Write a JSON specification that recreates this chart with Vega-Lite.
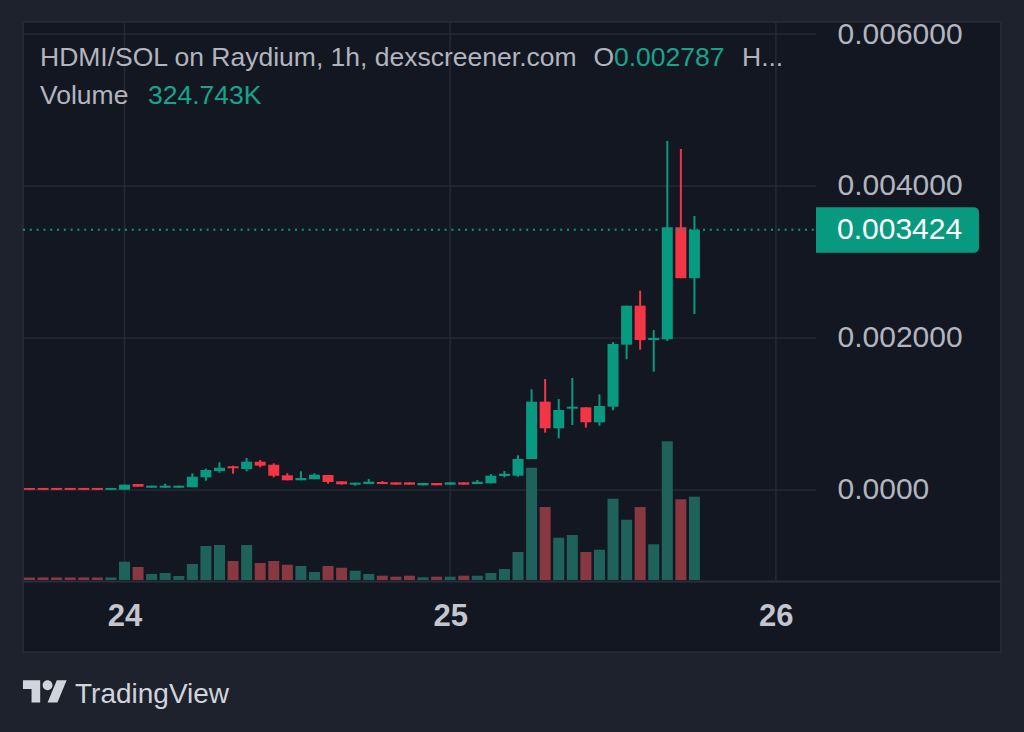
{
  "$schema": "https://vega.github.io/schema/vega-lite/v6.json",
  "width": 978,
  "height": 630,
  "autosize": {"type": "none"},
  "padding": {"left": 23, "top": 22, "right": 23, "bottom": 80},
  "background": "#1e222d",
  "config": {
    "view": {"fill": "#131722", "stroke": "#2a2e39", "strokeWidth": 1.5},
    "font": "Liberation Sans"
  },
  "datasets": {
    "ohlcv": [
      {"t": "2024-03-23T17:00", "o": 0.000027, "h": 0.000027, "l": 0.000002, "c": 0.000002, "v": 10000},
      {"t": "2024-03-23T18:00", "o": 0.000027, "h": 0.000027, "l": 0.000002, "c": 0.000002, "v": 10000},
      {"t": "2024-03-23T19:00", "o": 0.000027, "h": 0.000027, "l": 0.000002, "c": 0.000002, "v": 10000},
      {"t": "2024-03-23T20:00", "o": 0.000027, "h": 0.000027, "l": 0.000002, "c": 0.000002, "v": 10000},
      {"t": "2024-03-23T21:00", "o": 0.000027, "h": 0.000027, "l": 0.000002, "c": 0.000002, "v": 10000},
      {"t": "2024-03-23T22:00", "o": 0.000027, "h": 0.000027, "l": 0.000002, "c": 0.000002, "v": 10000},
      {"t": "2024-03-23T23:00", "o": 0.000002, "h": 0.000027, "l": 0.000002, "c": 0.000027, "v": 10000},
      {"t": "2024-03-24T00:00", "o": 0.000004, "h": 0.000070, "l": 0.000004, "c": 0.000070, "v": 71300},
      {"t": "2024-03-24T01:00", "o": 0.000079, "h": 0.000079, "l": 0.000043, "c": 0.000043, "v": 50700},
      {"t": "2024-03-24T02:00", "o": 0.000030, "h": 0.000057, "l": 0.000030, "c": 0.000057, "v": 23400},
      {"t": "2024-03-24T03:00", "o": 0.000030, "h": 0.000083, "l": 0.000030, "c": 0.000057, "v": 27300},
      {"t": "2024-03-24T04:00", "o": 0.000030, "h": 0.000057, "l": 0.000030, "c": 0.000057, "v": 15600},
      {"t": "2024-03-24T05:00", "o": 0.000036, "h": 0.000220, "l": 0.000036, "c": 0.000175, "v": 62400},
      {"t": "2024-03-24T06:00", "o": 0.000167, "h": 0.000280, "l": 0.000122, "c": 0.000263, "v": 132500},
      {"t": "2024-03-24T07:00", "o": 0.000250, "h": 0.000364, "l": 0.000228, "c": 0.000293, "v": 136400},
      {"t": "2024-03-24T08:00", "o": 0.000312, "h": 0.000320, "l": 0.000214, "c": 0.000286, "v": 74100},
      {"t": "2024-03-24T09:00", "o": 0.000276, "h": 0.000421, "l": 0.000246, "c": 0.000372, "v": 136400},
      {"t": "2024-03-24T10:00", "o": 0.000372, "h": 0.000395, "l": 0.000299, "c": 0.000320, "v": 66300},
      {"t": "2024-03-24T11:00", "o": 0.000333, "h": 0.000351, "l": 0.000167, "c": 0.000188, "v": 74100},
      {"t": "2024-03-24T12:00", "o": 0.000193, "h": 0.000220, "l": 0.000128, "c": 0.000128, "v": 59600},
      {"t": "2024-03-24T13:00", "o": 0.000128, "h": 0.000246, "l": 0.000128, "c": 0.000158, "v": 54600},
      {"t": "2024-03-24T14:00", "o": 0.000141, "h": 0.000220, "l": 0.000141, "c": 0.000201, "v": 31200},
      {"t": "2024-03-24T15:00", "o": 0.000197, "h": 0.000197, "l": 0.000083, "c": 0.000105, "v": 54600},
      {"t": "2024-03-24T16:00", "o": 0.000114, "h": 0.000114, "l": 0.000070, "c": 0.000075, "v": 47900},
      {"t": "2024-03-24T17:00", "o": 0.000070, "h": 0.000096, "l": 0.000057, "c": 0.000096, "v": 36300},
      {"t": "2024-03-24T18:00", "o": 0.000079, "h": 0.000145, "l": 0.000079, "c": 0.000109, "v": 23400},
      {"t": "2024-03-24T19:00", "o": 0.000105, "h": 0.000118, "l": 0.000079, "c": 0.000079, "v": 16800},
      {"t": "2024-03-24T20:00", "o": 0.000101, "h": 0.000101, "l": 0.000070, "c": 0.000070, "v": 12900},
      {"t": "2024-03-24T21:00", "o": 0.000101, "h": 0.000101, "l": 0.000070, "c": 0.000070, "v": 16800},
      {"t": "2024-03-24T22:00", "o": 0.000062, "h": 0.000092, "l": 0.000062, "c": 0.000092, "v": 10500},
      {"t": "2024-03-24T23:00", "o": 0.000092, "h": 0.000092, "l": 0.000062, "c": 0.000062, "v": 12900},
      {"t": "2024-03-25T00:00", "o": 0.000070, "h": 0.000101, "l": 0.000070, "c": 0.000101, "v": 12900},
      {"t": "2024-03-25T01:00", "o": 0.000101, "h": 0.000101, "l": 0.000070, "c": 0.000070, "v": 16800},
      {"t": "2024-03-25T02:00", "o": 0.000079, "h": 0.000132, "l": 0.000079, "c": 0.000109, "v": 16800},
      {"t": "2024-03-25T03:00", "o": 0.000088, "h": 0.000211, "l": 0.000088, "c": 0.000188, "v": 27300},
      {"t": "2024-03-25T04:00", "o": 0.000184, "h": 0.000250, "l": 0.000167, "c": 0.000214, "v": 42900},
      {"t": "2024-03-25T05:00", "o": 0.000188, "h": 0.000457, "l": 0.000175, "c": 0.000408, "v": 109100},
      {"t": "2024-03-25T06:00", "o": 0.000408, "h": 0.001325, "l": 0.000408, "c": 0.001162, "v": 437700},
      {"t": "2024-03-25T07:00", "o": 0.001162, "h": 0.001461, "l": 0.000754, "c": 0.000812, "v": 284600},
      {"t": "2024-03-25T08:00", "o": 0.000812, "h": 0.001197, "l": 0.000680, "c": 0.001053, "v": 164900},
      {"t": "2024-03-25T09:00", "o": 0.001070, "h": 0.001474, "l": 0.000855, "c": 0.001096, "v": 175400},
      {"t": "2024-03-25T10:00", "o": 0.001088, "h": 0.001088, "l": 0.000820, "c": 0.000891, "v": 109100},
      {"t": "2024-03-25T11:00", "o": 0.000891, "h": 0.001259, "l": 0.000846, "c": 0.001105, "v": 118100},
      {"t": "2024-03-25T12:00", "o": 0.001096, "h": 0.001947, "l": 0.001049, "c": 0.001921, "v": 316900},
      {"t": "2024-03-25T13:00", "o": 0.001912, "h": 0.002425, "l": 0.001720, "c": 0.002425, "v": 235000},
      {"t": "2024-03-25T14:00", "o": 0.002425, "h": 0.002622, "l": 0.001846, "c": 0.001974, "v": 284600},
      {"t": "2024-03-25T15:00", "o": 0.001974, "h": 0.002105, "l": 0.001557, "c": 0.002000, "v": 139200},
      {"t": "2024-03-25T16:00", "o": 0.001983, "h": 0.004592, "l": 0.001961, "c": 0.003457, "v": 540700},
      {"t": "2024-03-25T17:00", "o": 0.003457, "h": 0.004487, "l": 0.002787, "c": 0.002787, "v": 314600},
      {"t": "2024-03-25T18:00", "o": 0.002787, "h": 0.003605, "l": 0.002316, "c": 0.003424, "v": 324743}
    ]
  },
  "resolve": {"scale": {"y": "independent"}},
  "layer": [
    {
      "data": {"values": [{"d": "2024-03-24T00:00"}, {"d": "2024-03-25T00:00"}, {"d": "2024-03-26T00:00"}]},
      "mark": {"type": "rule", "color": "#262a35", "strokeWidth": 1.5},
      "encoding": {
        "x": {
          "field": "d", "type": "temporal",
          "scale": {"domain": [{"year": 2024, "month": 3, "date": 23, "hours": 16, "minutes": 31, "seconds": 15}, {"year": 2024, "month": 3, "date": 26, "hours": 16, "minutes": 35, "seconds": 30}], "nice": false, "padding": 0},
          "axis": {
            "orient": "bottom", "offset": -72, "title": null,
            "values": [{"year": 2024, "month": 3, "date": 24}, {"year": 2024, "month": 3, "date": 25}, {"year": 2024, "month": 3, "date": 26}],
            "format": "%d", "labelFontSize": 31, "labelFontWeight": "bold", "labelColor": "#c3c6ce",
            "labelPadding": 21, "ticks": false, "domain": false, "grid": false,
            "labelFlush": false, "labelOverlap": false
          }
        },
        "y": {"datum": 0.0061579, "type": "quantitative", "scale": {"domain": [-0.0021316, 0.0061579], "nice": false, "zero": false}, "axis": null},
        "y2": {"datum": -0.001184}
      }
    },
    {
      "data": {"values": [{"p": 0}, {"p": 0.002}, {"p": 0.004}, {"p": 0.006}]},
      "mark": {"type": "rule", "color": "#262a35", "strokeWidth": 1.5},
      "encoding": {
        "y": {
          "field": "p", "type": "quantitative",
          "scale": {"domain": [-0.0021316, 0.0061579], "nice": false, "zero": false},
          "axis": {
            "orient": "right", "offset": -185, "title": null,
            "values": [0, 0.002, 0.004, 0.006],
            "labelExpr": "datum.value == 0 ? '0.0000' : format(datum.value, '.6f')",
            "labelFontSize": 30, "labelColor": "#b2b5be", "labelPadding": 21,
            "ticks": false, "domain": false, "grid": false,
            "labelFlush": false, "labelOverlap": false
          }
        },
        "x": {"datum": {"year": 2024, "month": 3, "date": 23, "hours": 16, "minutes": 31, "seconds": 15}, "type": "temporal"},
        "x2": {"datum": {"year": 2024, "month": 3, "date": 26, "hours": 2, "minutes": 57, "seconds": 30}}
      }
    },
    {
      "data": {"values": [{}]},
      "mark": {"type": "rule", "color": "#2a2e39", "strokeWidth": 2},
      "encoding": {
        "x": {"datum": {"year": 2024, "month": 3, "date": 23, "hours": 16, "minutes": 31, "seconds": 15}, "type": "temporal"},
        "x2": {"datum": {"year": 2024, "month": 3, "date": 26, "hours": 16, "minutes": 35, "seconds": 30}},
        "y": {"datum": -0.001204, "type": "quantitative", "scale": {"domain": [-0.0021316, 0.0061579], "nice": false, "zero": false}, "axis": null}
      }
    },
    {
      "data": {"name": "ohlcv"},
      "mark": {"type": "bar", "width": 11},
      "encoding": {
        "x": {"field": "t", "type": "temporal"},
        "y": {"field": "v", "type": "quantitative", "scale": {"domain": [-280656, 2175084], "nice": false, "zero": false}, "axis": null},
        "y2": {"datum": 0},
        "color": {"condition": {"test": "datum.c >= datum.o", "value": "#1e625b"}, "value": "#873841"}
      }
    },
    {
      "data": {"name": "ohlcv"},
      "mark": {"type": "rule", "strokeWidth": 2},
      "encoding": {
        "x": {"field": "t", "type": "temporal"},
        "y": {"field": "h", "type": "quantitative", "scale": {"domain": [-0.0021316, 0.0061579], "nice": false, "zero": false}, "axis": null},
        "y2": {"field": "l"},
        "color": {"condition": {"test": "datum.c >= datum.o", "value": "#089981"}, "value": "#f23645"}
      }
    },
    {
      "data": {"name": "ohlcv"},
      "mark": {"type": "bar", "width": 11},
      "encoding": {
        "x": {"field": "t", "type": "temporal"},
        "y": {"field": "o", "type": "quantitative", "scale": {"domain": [-0.0021316, 0.0061579], "nice": false, "zero": false}, "axis": null},
        "y2": {"field": "c"},
        "color": {"condition": {"test": "datum.c >= datum.o", "value": "#089981"}, "value": "#f23645"}
      }
    },
    {
      "data": {"values": [{}]},
      "mark": {"type": "rule", "color": "#089981", "strokeWidth": 2, "strokeDash": [2, 4.8]},
      "encoding": {
        "x": {"datum": {"year": 2024, "month": 3, "date": 23, "hours": 16, "minutes": 31, "seconds": 15}, "type": "temporal"},
        "x2": {"datum": {"year": 2024, "month": 3, "date": 26, "hours": 2, "minutes": 57, "seconds": 30}},
        "y": {"datum": 0.003424, "type": "quantitative", "scale": {"domain": [-0.0021316, 0.0061579], "nice": false, "zero": false}, "axis": null}
      }
    },
    {
      "data": {"values": [{}]},
      "mark": {"type": "rect", "color": "#089981", "cornerRadiusTopRight": 5, "cornerRadiusBottomRight": 5},
      "encoding": {
        "x": {"datum": {"year": 2024, "month": 3, "date": 26, "hours": 2, "minutes": 57, "seconds": 30}, "type": "temporal"},
        "x2": {"datum": {"year": 2024, "month": 3, "date": 26, "hours": 14, "minutes": 58, "seconds": 12}},
        "y": {"datum": 0.0037197, "type": "quantitative", "scale": {"domain": [-0.0021316, 0.0061579], "nice": false, "zero": false}, "axis": null},
        "y2": {"datum": 0.0031224}
      }
    },
    {
      "data": {"values": [{}]},
      "mark": {"type": "text", "text": "0.003424", "align": "left", "baseline": "middle", "fontSize": 30, "color": "#ffffff"},
      "encoding": {
        "x": {"datum": {"year": 2024, "month": 3, "date": 26, "hours": 4, "minutes": 30, "seconds": 22}, "type": "temporal"},
        "y": {"datum": 0.003424, "type": "quantitative", "scale": {"domain": [-0.0021316, 0.0061579], "nice": false, "zero": false}, "axis": null}
      }
    },
    {
      "data": {"values": [{}]},
      "mark": {"type": "text", "text": "HDMI/SOL on Raydium, 1h, dexscreener.com", "align": "left", "baseline": "alphabetic", "fontSize": 26.5, "color": "#b2b5be"},
      "encoding": {
        "x": {"datum": {"year": 2024, "month": 3, "date": 23, "hours": 17, "minutes": 46, "seconds": 26}, "type": "temporal"},
        "y": {"datum": 0.0055789, "type": "quantitative", "scale": {"domain": [-0.0021316, 0.0061579], "nice": false, "zero": false}, "axis": null}
      }
    },
    {
      "data": {"values": [{}]},
      "mark": {"type": "text", "text": "O", "align": "right", "baseline": "alphabetic", "fontSize": 26.5, "color": "#b2b5be"},
      "encoding": {
        "x": {"datum": {"year": 2024, "month": 3, "date": 25, "hours": 12, "minutes": 4, "seconds": 24}, "type": "temporal"},
        "y": {"datum": 0.0055789, "type": "quantitative", "scale": {"domain": [-0.0021316, 0.0061579], "nice": false, "zero": false}, "axis": null}
      }
    },
    {
      "data": {"values": [{}]},
      "mark": {"type": "text", "text": "0.002787", "align": "left", "baseline": "alphabetic", "fontSize": 26.5, "color": "#16a58c"},
      "encoding": {
        "x": {"datum": {"year": 2024, "month": 3, "date": 25, "hours": 12, "minutes": 4, "seconds": 24}, "type": "temporal"},
        "y": {"datum": 0.0055789, "type": "quantitative", "scale": {"domain": [-0.0021316, 0.0061579], "nice": false, "zero": false}, "axis": null}
      }
    },
    {
      "data": {"values": [{}]},
      "mark": {"type": "text", "text": "H...", "align": "left", "baseline": "alphabetic", "fontSize": 26.5, "color": "#b2b5be"},
      "encoding": {
        "x": {"datum": {"year": 2024, "month": 3, "date": 25, "hours": 21, "minutes": 30, "seconds": 22}, "type": "temporal"},
        "y": {"datum": 0.0055789, "type": "quantitative", "scale": {"domain": [-0.0021316, 0.0061579], "nice": false, "zero": false}, "axis": null}
      }
    },
    {
      "data": {"values": [{}]},
      "mark": {"type": "text", "text": "Volume", "align": "left", "baseline": "alphabetic", "fontSize": 26.5, "color": "#b2b5be"},
      "encoding": {
        "x": {"datum": {"year": 2024, "month": 3, "date": 23, "hours": 17, "minutes": 46, "seconds": 26}, "type": "temporal"},
        "y": {"datum": 0.0050789, "type": "quantitative", "scale": {"domain": [-0.0021316, 0.0061579], "nice": false, "zero": false}, "axis": null}
      }
    },
    {
      "data": {"values": [{}]},
      "mark": {"type": "text", "text": "324.743K", "align": "left", "baseline": "alphabetic", "fontSize": 26.5, "color": "#16a58c"},
      "encoding": {
        "x": {"datum": {"year": 2024, "month": 3, "date": 24, "hours": 1, "minutes": 43, "seconds": 56}, "type": "temporal"},
        "y": {"datum": 0.0050789, "type": "quantitative", "scale": {"domain": [-0.0021316, 0.0061579], "nice": false, "zero": false}, "axis": null}
      }
    },
    {
      "data": {"values": [{}]},
      "mark": {"type": "point", "shape": "M-0.211,0.507 L-0.606,0.507 L-0.606,-0.113 L-1,-0.113 L-1,-0.507 L-0.211,-0.507 Z M0.577,0.507 L0.127,0.507 L0.549,-0.507 L1,-0.507 Z M-0.098,-0.282 A0.225,0.225 0 1,0 0.352,-0.282 A0.225,0.225 0 1,0 -0.098,-0.282 Z", "filled": true, "size": 1910, "color": "#d1d4dc", "opacity": 1, "strokeWidth": 0},
      "encoding": {
        "x": {"datum": {"year": 2024, "month": 3, "date": 23, "hours": 18, "minutes": 7, "seconds": 39}, "type": "temporal"},
        "y": {"datum": -0.00265, "type": "quantitative", "scale": {"domain": [-0.0021316, 0.0061579], "nice": false, "zero": false}, "axis": null}
      }
    },
    {
      "data": {"values": [{}]},
      "mark": {"type": "text", "text": "TradingView", "align": "left", "baseline": "alphabetic", "fontSize": 28, "color": "#d1d4dc"},
      "encoding": {
        "x": {"datum": {"year": 2024, "month": 3, "date": 23, "hours": 20, "minutes": 21, "seconds": 11}, "type": "temporal"},
        "y": {"datum": -0.0028026, "type": "quantitative", "scale": {"domain": [-0.0021316, 0.0061579], "nice": false, "zero": false}, "axis": null}
      }
    }
  ]
}
